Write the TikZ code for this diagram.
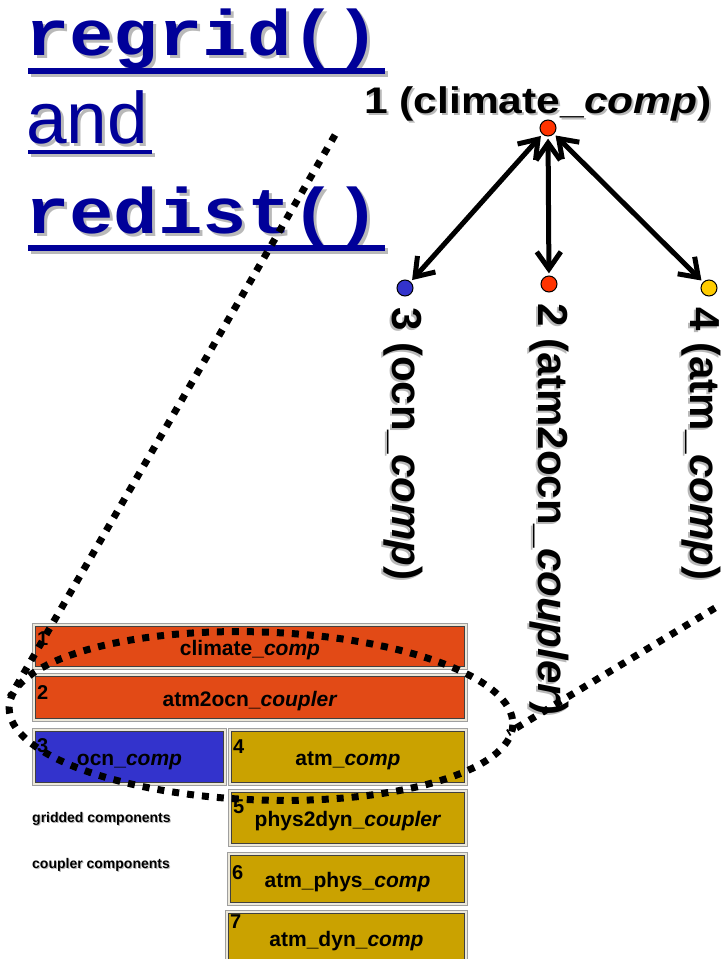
\documentclass[tikz,border=0pt]{standalone}
\usepackage{fontspec}
\setmainfont{Liberation Sans}
\setmonofont{Liberation Mono}
\usetikzlibrary{calc}

\definecolor{linkblue}{RGB}{0,0,153}
\definecolor{shadowgray}{RGB}{185,185,185}
\definecolor{compred}{RGB}{226,74,22}
\definecolor{compblue}{RGB}{51,51,204}
\definecolor{compgold}{RGB}{202,162,0}
\definecolor{dotred}{RGB}{255,51,0}
\definecolor{dotyellow}{RGB}{255,204,0}
\definecolor{bevel}{RGB}{236,232,218}

\newcommand\codeword[1]{\scalebox{1}[0.87]{#1}}
\newcommand\wideword[1]{\scalebox{1.15}[1]{\fontsize{37}{37}\selectfont #1}}

\tikzset{
  titletext/.style={inner sep=0, anchor=base west, text=linkblue},
  titleshadow/.style={inner sep=0, anchor=base west, text=shadowgray},
  codefont/.style={font=\ttfamily\bfseries\fontsize{74}{74}\selectfont},
  wordfont/.style={font=\fontsize{73}{73}\selectfont},
  dot/.style={circle, draw=black, line width=1, minimum size=16, inner sep=0},
  link/.style={line width=5, shorten >=6, shorten <=6},
  headline/.style={line width=5, line join=miter, miter limit=10},
  treelabel/.style={inner sep=0, font=\bfseries\fontsize{42}{42}\selectfont},
  cbox/.style={rectangle, inner sep=0, draw=black!75, line width=1.5,
    text height=17pt, text depth=0pt,
    font=\bfseries\fontsize{21}{21}\selectfont,
    preaction={draw=gray!75, line width=7},
    preaction={draw=bevel, line width=5}},
  cnum/.style={anchor=north west, inner sep=0, font=\bfseries\fontsize{20}{20}\selectfont},
  legend/.style={anchor=base west, inner sep=0, font=\bfseries\fontsize{14}{14}\selectfont},
  zoomline/.style={line width=7, dash pattern=on 7 off 8, black}
}

% name, x1, y1, x2, y2, fill, number, number offset, text
\newcommand\compbox[9]{%
  \node[cbox, fill=#6, minimum width={#4-#2-7}, minimum height={#5-#3-7}]
    (#1) at ({(#2+#4)/2},{(#3+#5)/2}) {#9};
  \node[cnum] (#1num) at (#2+5,#3+#8) {#7};
}

% open barbed head next to node #1 on the link coming from node #2
\newcommand\barbhead[2]{%
  \coordinate (headtip) at ($(#1)!15pt!(#2)$);
  \draw[headline] ($(headtip)!21pt!35:(#2)$) -- (headtip) -- ($(headtip)!21pt!-35:(#2)$);
}

\begin{document}
\begin{tikzpicture}[x=1pt,y=-1pt]
\useasboundingbox (0,0) rectangle (723,959);

% ---- heading with underlines and soft shadows
\node[titleshadow, codefont] (regridsh) at (28,58) {\codeword{regrid()}};
\node[titletext, codefont] (regrid) at (25,55) {\codeword{regrid()}};
\draw[shadowgray, line width=6] (31,74) -- (388,74);
\draw[linkblue, line width=6] (28,71) -- (385,71);

\node[titleshadow, wordfont] (andsh) at (29,146) {and};
\node[titletext, wordfont] (and) at (26,143) {and};
\draw[shadowgray, line width=4] (31,155) -- (155,155);
\draw[linkblue, line width=4] (28,152) -- (152,152);

\node[titleshadow, codefont] (redistsh) at (28,236) {\codeword{redist()}};
\node[titletext, codefont] (redist) at (25,233) {\codeword{redist()}};
\draw[shadowgray, line width=6] (31,251) -- (388,251);
\draw[linkblue, line width=6] (28,248) -- (385,248);

% ---- component tree
\node[dot, fill=dotred] (n1) at (548,128) {};
\node[dot, fill=compblue] (n3) at (405,288) {};
\node[dot, fill=dotred] (n2) at (549,284) {};
\node[dot, fill=dotyellow] (n4) at (709,288) {};

\draw[link] (n1) -- (n3);
\draw[link] (n1) -- (n2);
\draw[link] (n1) -- (n4);
\barbhead{n1}{n3}\barbhead{n3}{n1}
\barbhead{n1}{n2}\barbhead{n2}{n1}
\barbhead{n1}{n4}\barbhead{n4}{n1}

\node[treelabel, text=shadowgray, anchor=base west] (l1sh) at (366,115) {\wideword{1 (climate\_\textit{comp})}};
\node[treelabel, anchor=base west] (l1) at (364,113) {\wideword{1 (climate\_\textit{comp})}};

\node[treelabel, text=shadowgray, rotate=-90, anchor=base west] (l3sh) at (390,309) {3 (ocn\_\textit{comp})};
\node[treelabel, rotate=-90, anchor=base west] (l3) at (392,307) {3 (ocn\_\textit{comp})};
\node[treelabel, text=shadowgray, rotate=-90, anchor=base west] (l2sh) at (536,305) {2 (atm2ocn\_\textit{coupler})};
\node[treelabel, rotate=-90, anchor=base west] (l2) at (538,303) {2 (atm2ocn\_\textit{coupler})};
\node[treelabel, text=shadowgray, rotate=-90, anchor=base west] (l4sh) at (688,309) {4 (atm\_\textit{comp})};
\node[treelabel, rotate=-90, anchor=base west] (l4) at (690,307) {4 (atm\_\textit{comp})};

% ---- component boxes
\compbox{c1}{32}{623}{468}{670}{compred}{1}{9}{climate\_\textit{comp}}
\compbox{c2}{32}{673}{468}{722}{compred}{2}{12}{atm2ocn\_\textit{coupler}}
\compbox{c3}{32}{728}{227}{786}{compblue}{3}{10}{ocn\_\textit{comp}}
\compbox{c4}{228}{728}{468}{786}{compgold}{4}{12}{atm\_\textit{comp}}
\compbox{c5}{228}{789}{468}{847}{compgold}{5}{11}{phys2dyn\_\textit{coupler}}
\compbox{c6}{227}{852}{468}{906}{compgold}{6}{13}{atm\_phys\_\textit{comp}}
\compbox{c7}{225}{910}{468}{966}{compgold}{7}{5}{atm\_dyn\_\textit{comp}}

\node[legend, text=shadowgray] (gridsh) at (33,823) {gridded components};
\node[legend] (grid) at (32,822) {gridded components};
\node[legend, text=shadowgray] (cplsh) at (33,869) {coupler components};
\node[legend] (cpl) at (32,868) {coupler components};

% ---- dotted zoom-in outline
\coordinate (leftapex) at (335,135);
\coordinate (leftfoot) at (10,697);
\coordinate (rightapex) at (715,608);
\coordinate (rightfoot) at (508,733);
\draw[zoomline] (leftapex) -- (leftfoot);
\draw[zoomline] (rightapex) -- (rightfoot);
\draw[zoomline, rotate around={-2:(261,716)}] (261,716) ellipse (252 and 84);
\end{tikzpicture}
\end{document}
